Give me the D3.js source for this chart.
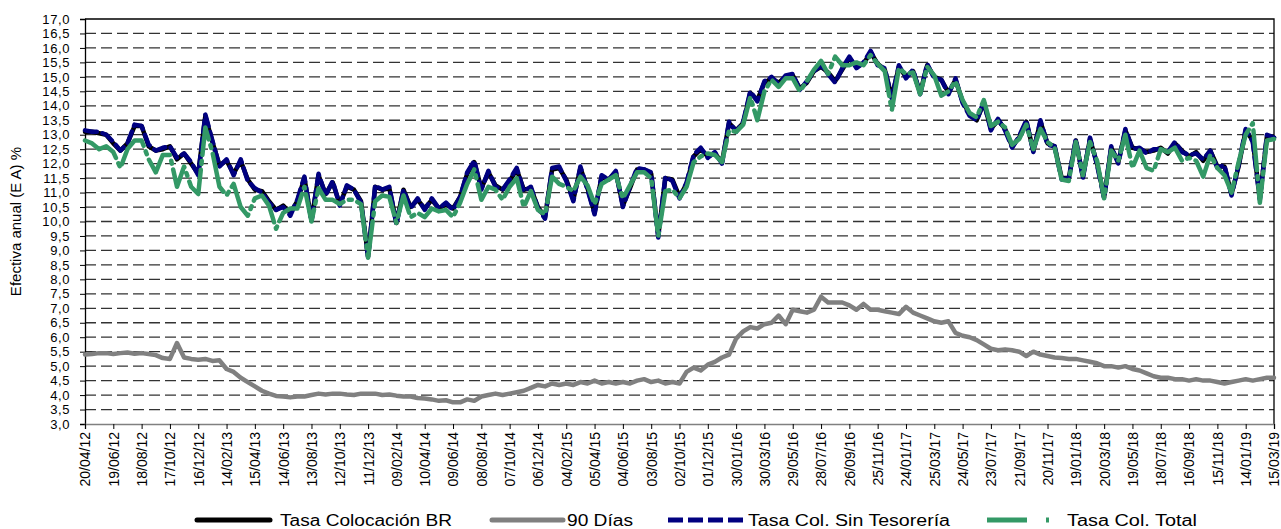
<!DOCTYPE html>
<html>
<head>
<meta charset="utf-8">
<script src="https://cdn.jsdelivr.net/npm/d3@7"></script>
<style>
  body { margin: 0; background: #fff; }
  text { font-family: "Liberation Sans", Arial, sans-serif; fill: #000; }
</style>
</head>
<body>
<div id="chart"></div>
<script>
// sample grid: one value every 15 days from 20/04/12
const startDate = "20/04/12";
const stepDays = 15;

const tasaBR = [13.1,13.1,13.05,13.0,12.7,12.45,12.7,13.3,13.3,12.6,12.45,12.5,12.6,12.15,12.35,12.0,11.65,13.65,12.75,11.95,
  12.1,11.65,12.1,11.45,11.1,11.05,10.7,10.4,10.55,10.3,10.7,11.5,10.05,11.6,10.95,11.35,10.6,11.2,11.1,10.7,
  8.8,11.2,11.1,11.15,9.95,11.1,10.5,10.75,10.45,10.75,10.45,10.6,10.45,10.85,11.65,12.05,11.15,11.7,11.25,11.1,
  11.4,11.8,11.1,11.15,10.5,10.15,11.8,11.85,11.45,10.75,11.85,11.15,10.3,11.55,11.45,11.7,10.55,11.15,11.8,11.8,
  11.65,9.5,11.5,11.45,10.85,11.3,12.25,12.5,12.25,12.35,12.05,13.4,13.15,13.4,14.45,14.2,14.8,14.95,14.8,15.0,
  15.05,14.6,14.8,15.2,15.35,15.15,14.85,15.25,15.65,15.35,15.45,15.85,15.45,15.25,14.3,15.35,15.0,15.2,14.45,15.4,
  15.0,14.9,14.45,14.9,14.15,13.7,13.5,14.1,13.2,13.5,13.2,12.6,12.9,13.45,12.45,13.45,12.7,12.6,11.5,11.5,
  12.8,11.55,12.85,12.0,10.85,12.55,12.05,13.15,12.55,12.5,12.4,12.45,12.55,12.35,12.7,12.45,12.25,12.4,12.1,12.45,
  11.9,11.9,10.95,11.9,13.15,12.8,10.8,12.95,12.9];

const dias90 = [5.4,5.42,5.45,5.45,5.42,5.45,5.47,5.43,5.45,5.42,5.38,5.28,5.25,5.8,5.3,5.25,5.22,5.25,5.18,5.2,
  4.9,4.8,4.6,4.45,4.3,4.15,4.05,3.97,3.95,3.92,3.95,3.95,4.0,4.05,4.02,4.05,4.05,4.02,4.0,4.05,
  4.05,4.05,4.0,4.02,3.98,3.95,3.95,3.9,3.88,3.85,3.8,3.82,3.75,3.75,3.85,3.8,3.95,4.0,4.05,4.0,
  4.05,4.1,4.15,4.25,4.35,4.3,4.4,4.35,4.4,4.35,4.45,4.4,4.5,4.4,4.45,4.4,4.45,4.4,4.5,4.55,
  4.45,4.5,4.4,4.45,4.4,4.8,4.95,4.85,5.05,5.15,5.3,5.4,5.95,6.2,6.35,6.3,6.45,6.5,6.75,6.45,
  6.95,6.9,6.85,6.95,7.4,7.2,7.2,7.2,7.1,6.95,7.15,6.95,6.95,6.9,6.85,6.8,7.05,6.85,6.75,6.65,
  6.55,6.5,6.55,6.15,6.05,6.0,5.9,5.75,5.6,5.55,5.58,5.55,5.5,5.35,5.5,5.4,5.35,5.3,5.28,5.25,
  5.25,5.2,5.15,5.1,5.0,5.0,4.95,5.0,4.9,4.85,4.75,4.65,4.6,4.6,4.55,4.55,4.5,4.55,4.5,4.5,
  4.45,4.4,4.45,4.5,4.55,4.5,4.55,4.6,4.6];

const sinTesoreria = [13.15,13.1,13.1,13.0,12.75,12.45,12.7,13.35,13.3,12.65,12.45,12.55,12.6,12.2,12.35,12.05,11.6,13.7,12.8,11.9,
  12.15,11.6,12.15,11.4,11.15,11.0,10.65,10.4,10.5,10.2,10.75,11.55,10.0,11.65,10.9,11.4,10.55,11.25,11.1,10.65,
  8.75,11.25,11.1,11.2,9.9,11.1,10.45,10.8,10.4,10.8,10.45,10.65,10.4,10.85,11.7,12.1,11.1,11.75,11.2,11.1,
  11.45,11.85,11.05,11.2,10.45,10.1,11.85,11.9,11.4,10.7,11.9,11.1,10.25,11.6,11.45,11.75,10.5,11.2,11.85,11.8,
  11.7,9.45,11.55,11.4,10.8,11.35,12.3,12.55,12.2,12.4,12.0,13.45,13.1,13.45,14.5,14.15,14.85,15.0,14.75,15.05,
  15.1,14.55,14.85,15.2,15.4,15.1,14.8,15.3,15.7,15.3,15.5,15.9,15.4,15.3,14.25,15.4,14.95,15.25,14.4,15.45,
  14.95,14.9,14.4,14.95,14.1,13.65,13.5,14.15,13.15,13.55,13.15,12.55,12.95,13.5,12.4,13.5,12.65,12.6,11.45,11.5,
  12.85,11.5,12.9,11.95,10.8,12.6,12.0,13.2,12.5,12.55,12.35,12.5,12.5,12.4,12.75,12.4,12.3,12.35,12.15,12.45,
  11.85,11.95,10.9,11.95,13.2,12.75,10.75,13.0,12.9];

const colTotal = [12.8,12.7,12.5,12.6,12.4,11.85,12.5,12.8,12.8,12.15,11.7,12.3,12.3,11.2,11.9,11.2,10.95,13.25,12.4,11.2,
  10.9,11.3,10.5,10.2,10.8,10.9,10.55,9.75,10.3,10.45,10.45,11.2,10.0,11.15,10.75,10.75,10.6,10.75,10.75,10.6,
  8.75,10.7,10.9,10.85,9.95,10.9,10.15,10.3,10.15,10.45,10.35,10.4,10.15,10.65,11.3,11.8,10.75,11.2,11.1,10.75,
  11.2,11.5,10.5,11.05,10.4,10.25,11.55,11.3,11.2,11.05,11.55,11.25,10.6,11.3,11.45,11.6,10.8,11.25,11.7,11.7,
  11.5,9.5,11.05,11.1,10.8,11.2,12.05,12.25,12.35,12.3,12.05,13.15,13.1,13.35,14.3,13.5,14.5,14.9,14.65,14.95,
  14.95,14.5,14.85,15.25,15.55,15.1,15.7,15.4,15.4,15.5,15.4,15.75,15.45,15.2,13.85,15.3,15.1,15.15,14.4,15.35,
  15.05,14.35,14.5,14.85,14.2,13.75,13.6,14.2,13.3,13.45,13.25,12.65,12.85,13.35,12.5,13.2,12.75,12.55,11.45,11.4,
  12.75,11.6,12.75,12.1,10.8,12.45,12.1,13.0,11.85,12.45,11.85,11.75,12.5,12.4,12.55,12.1,12.2,12.1,11.55,12.3,
  11.85,11.6,11.0,12.05,13.0,13.4,10.65,12.8,12.85];

const xTickLabels = ["20/04/12","19/06/12","18/08/12","17/10/12","16/12/12","14/02/13","15/04/13","14/06/13","13/08/13",
  "12/10/13","11/12/13","09/02/14","10/04/14","09/06/14","08/08/14","07/10/14","06/12/14","04/02/15","05/04/15",
  "04/06/15","03/08/15","02/10/15","01/12/15","30/01/16","30/03/16","29/05/16","28/07/16","26/09/16","25/11/16",
  "24/01/17","25/03/17","24/05/17","23/07/17","21/09/17","20/11/17","19/01/18","20/03/18","19/05/18","18/07/18",
  "16/09/18","15/11/18","14/01/19","15/03/19"];

const yTicks = d3.range(3, 17.01, 0.5);

const legendNames = ["Tasa Colocación BR", "90 Días", "Tasa Col. Sin Tesorería", "Tasa Col. Total"];

const width = 1281, height = 529;
const margin = { top: 19, right: 7, bottom: 105, left: 85 };

const parse = d3.utcParse("%d/%m/%y");
const fmtX = d3.utcFormat("%d/%m/%y");
const t0 = parse(startDate);
const tickDates = xTickLabels.map(parse);

const svg = d3.select("#chart").append("svg")
  .attr("width", width).attr("height", height);

const x = d3.scaleUtc()
  .domain([t0, tickDates[tickDates.length - 1]])
  .range([margin.left, width - margin.right]);

const y = d3.scaleLinear()
  .domain([3, 17])
  .range([height - margin.bottom, margin.top]);

const fmtY = v => d3.format(".1f")(v).replace(".", ",");

// dashed gridlines
svg.append("g")
  .selectAll("line")
  .data(yTicks.filter(v => v > 3 && v < 17))
  .join("line")
  .attr("x1", margin.left).attr("x2", width - margin.right)
  .attr("y1", d => y(d)).attr("y2", d => y(d))
  .attr("stroke", "#333")
  .attr("stroke-width", 1.3)
  .attr("stroke-dasharray", "11,5");

// frame: top and right
svg.append("path")
  .attr("d", `M${margin.left},${y(17)}H${width - margin.right}V${y(3)}`)
  .attr("fill", "none").attr("stroke", "#000").attr("stroke-width", 1.3);

// y axis
const yAxis = svg.append("g")
  .attr("transform", `translate(${margin.left},0)`)
  .call(d3.axisLeft(y).tickValues(yTicks).tickFormat(fmtY).tickSize(5).tickPadding(10));
yAxis.select(".domain").attr("stroke", "#000").attr("stroke-width", 1.3);
yAxis.selectAll(".tick line").attr("stroke", "#000");
yAxis.selectAll("text")
  .style("font-size", "13px")
  .style("letter-spacing", "0.6px")
  .style("font-family", "Liberation Sans, Arial, sans-serif");

// x axis
const xAxis = svg.append("g")
  .attr("transform", `translate(0,${y(3)})`)
  .call(d3.axisBottom(x).tickValues(tickDates).tickFormat(fmtX).tickSize(5).tickPadding(6));
xAxis.select(".domain").attr("stroke", "#808080").attr("stroke-width", 1.5);
xAxis.selectAll(".tick line").attr("stroke", "#000");
xAxis.selectAll("text")
  .style("font-size", "14px")
  .style("font-family", "Liberation Sans, Arial, sans-serif")
  .attr("text-anchor", "end")
  .attr("transform", "rotate(-90)")
  .attr("x", -8)
  .attr("y", 0)
  .attr("dy", "0.35em");

// y axis title
svg.append("text")
  .attr("transform", `translate(21,${(y(3) + y(17)) / 2}) rotate(-90)`)
  .attr("text-anchor", "middle")
  .style("font-size", "15px")
  .text("Efectiva anual (E A) %");

const line = d3.line()
  .x((d, i) => x(d3.utcDay.offset(t0, i * stepDays)))
  .y(d => y(d));

const series = [
  { values: tasaBR, color: "#000000", dash: null },
  { values: dias90, color: "#808080", dash: null },
  { values: sinTesoreria, color: "#000080", dash: "12,6" },
  { values: colTotal, color: "#339966", dash: "40,6,3,6" }
];

svg.append("g")
  .selectAll("path")
  .data(series)
  .join("path")
  .attr("d", d => line(d.values))
  .attr("fill", "none")
  .attr("stroke", d => d.color)
  .attr("stroke-width", 4.5)
  .attr("stroke-linejoin", "round")
  .attr("stroke-linecap", "round")
  .attr("stroke-dasharray", d => d.dash);

// legend
const legendY = 520;
const legendItems = [
  { x1: 197, x2: 270, tx: 280, tw: 172, color: "#000000", dash: null },
  { x1: 492, x2: 563, tx: 567, tw: 66, color: "#808080", dash: null },
  { x1: 668, x2: 746, tx: 748, tw: 202, color: "#000080", dash: "15,5" },
  { x1: 987, x2: 1050, tx: 1067, tw: 130, color: "#339966", dash: "40,19,3,40" }
];

const lg = svg.append("g")
  .selectAll("g")
  .data(legendItems)
  .join("g");

lg.append("line")
  .attr("x1", d => d.x1).attr("x2", d => d.x2)
  .attr("y1", legendY).attr("y2", legendY)
  .attr("stroke", d => d.color)
  .attr("stroke-width", 5)
  .attr("stroke-linecap", d => d.dash ? "butt" : "round")
  .attr("stroke-dasharray", d => d.dash);

lg.append("text")
  .attr("x", d => d.tx)
  .attr("y", legendY)
  .attr("dy", "0.36em")
  .attr("textLength", d => d.tw)
  .attr("lengthAdjust", "spacingAndGlyphs")
  .style("font-size", "16px")
  .text((d, i) => legendNames[i]);
</script>
</body>
</html>
